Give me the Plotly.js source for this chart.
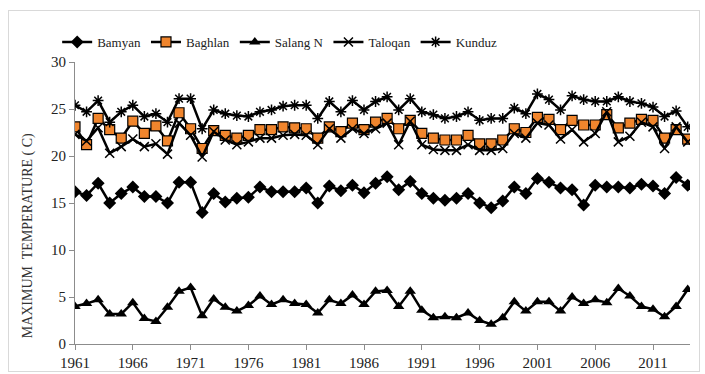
<!DOCTYPE html>
<html>
<head>
<meta charset="utf-8">
<script src="https://cdn.plot.ly/plotly-3.0.1.min.js"></script>
<style>
  html, body { margin: 0; padding: 0; background: #fff; }
  #frame { position: absolute; left: 8px; top: 10px; width: 692px; height: 362px; border: 1px solid #d9d9d9; box-sizing: border-box; }
  #chart { position: absolute; left: 0; top: 0; width: 705px; height: 374px; }
</style>
</head>
<body>
<div id="frame"></div>
<div id="chart"></div>
<script>
const years = [];
for (let y = 1961; y <= 2014; y++) years.push(y);

const bamyan = [16.2,15.8,17.1,15.0,16.0,16.7,15.7,15.7,15.0,17.2,
                17.2,14.0,16.0,15.1,15.5,15.6,16.7,16.2,16.2,16.2,
                16.6,15.0,16.8,16.3,16.9,16.1,17.1,17.8,16.4,17.3,
                16.0,15.5,15.3,15.5,16.0,15.0,14.5,15.2,16.7,16.0,
                17.6,17.2,16.6,16.4,14.8,16.9,16.7,16.7,16.6,17.0,
                16.8,16.0,17.7,16.9];
const baghlan = [23.1,21.2,24.0,22.8,21.9,23.7,22.4,23.2,21.6,24.6,
                 22.9,20.8,22.7,22.2,21.9,22.2,22.8,22.8,23.1,23.0,
                 22.9,21.9,23.1,22.6,23.5,22.8,23.6,24.0,22.9,23.8,
                 22.4,21.9,21.7,21.7,22.2,21.3,21.3,21.7,22.9,22.5,
                 24.1,23.9,22.8,23.8,23.3,23.3,24.4,23.0,23.5,23.9,
                 23.8,21.9,22.8,21.8];
const salangN = [4.0,4.3,4.7,3.2,3.2,4.4,2.7,2.4,3.9,5.6,
                 6.0,3.0,4.8,3.9,3.5,4.1,5.1,4.2,4.7,4.3,
                 4.2,3.3,4.7,4.3,5.2,4.2,5.6,5.7,4.0,5.6,
                 3.6,2.8,2.9,2.8,3.3,2.5,2.1,2.8,4.5,3.5,
                 4.5,4.5,3.5,5.0,4.3,4.7,4.4,5.9,5.1,4.0,
                 3.7,2.9,4.0,5.8];
const taloqan = [22.3,21.6,23.0,20.3,21.0,21.8,21.0,21.3,20.2,23.5,
                 22.2,19.9,22.6,21.7,21.2,21.5,21.9,21.9,22.2,22.3,
                 22.2,21.2,22.9,21.9,22.9,22.4,22.9,23.5,21.2,23.7,
                 21.2,20.7,20.6,20.6,21.2,20.6,20.6,20.8,22.4,21.9,
                 23.5,23.3,21.8,22.8,21.5,22.4,24.7,21.5,22.1,23.6,
                 23.1,20.8,23.1,21.5];
const kunduz = [25.4,24.7,25.9,23.6,24.7,25.4,24.2,24.5,23.6,26.1,
                26.1,22.9,24.9,24.5,24.3,24.2,24.7,24.9,25.3,25.4,
                25.4,24.0,25.8,24.7,25.9,24.9,25.8,26.3,24.9,26.1,
                24.7,24.4,24.0,24.2,24.7,23.8,24.0,24.0,25.1,24.5,
                26.6,26.0,24.9,26.4,26.0,25.8,25.8,26.3,25.8,25.6,
                25.2,24.2,24.8,23.1];
const seriesNames = ["Bamyan", "Baghlan", "Salang N", "Taloqan", "Kunduz"];
const tickYears = [1961, 1966, 1971, 1976, 1981, 1986, 1991, 1996, 2001, 2006, 2011];
const yTicks = [0, 5, 10, 15, 20, 25, 30];
const yTitle = "MAXIMUM  TEMPERATURE ( C)";

const lineStyle = {color: "#000000", width: 2.5};
const traces = [
  {x: years, y: bamyan, name: seriesNames[0], mode: "lines+markers", line: lineStyle,
   marker: {symbol: "diamond", size: 10, color: "#000000"}},
  {x: years, y: baghlan, name: seriesNames[1], mode: "lines+markers", line: lineStyle,
   marker: {symbol: "square", size: 10, color: "#F0852D", line: {color: "#000000", width: 1.2}}},
  {x: years, y: salangN, name: seriesNames[2], mode: "lines+markers", line: lineStyle,
   marker: {symbol: "triangle-up", size: 10, color: "#000000"}},
  {x: years, y: taloqan, name: seriesNames[3], mode: "lines+markers", line: lineStyle,
   marker: {symbol: "x-thin-open", size: 9, color: "#000000", line: {color: "#000000", width: 1.5}}},
  {x: years, y: kunduz, name: seriesNames[4], mode: "lines+markers", line: lineStyle,
   marker: {symbol: "asterisk-open", size: 9, color: "#000000", line: {color: "#000000", width: 1.5}}}
];

const fam = "Liberation Serif";
const layout = {
  width: 705, height: 374,
  margin: {l: 75, r: 15, t: 62, b: 30},
  paper_bgcolor: "rgba(0,0,0,0)", plot_bgcolor: "rgba(0,0,0,0)",
  font: {family: fam, size: 15, color: "#222222"},
  showlegend: true,
  legend: {orientation: "h", x: -0.029, xanchor: "left", y: 1.071, yanchor: "middle",
           font: {family: fam, size: 13, color: "#222222"}, bgcolor: "rgba(0,0,0,0)"},
  xaxis: {range: [1961, 2014.2], tickmode: "array", tickvals: tickYears, ticktext: tickYears.map(String),
          showgrid: false, zeroline: false, showline: true, linecolor: "#8c8c8c", linewidth: 1,
          ticks: "outside", ticklen: 5, tickcolor: "#8c8c8c", tickfont: {family: fam, size: 15, color: "#222222"}},
  yaxis: {range: [0, 30], tickmode: "array", tickvals: yTicks, showgrid: false, zeroline: false,
          showline: true, linecolor: "#8c8c8c", linewidth: 1, ticks: "outside", ticklen: 5, tickcolor: "#8c8c8c",
          tickfont: {family: fam, size: 15, color: "#222222"}},
  annotations: [{text: yTitle, textangle: -90, xref: "paper", yref: "paper", x: -0.075, y: 0.385,
                 xanchor: "center", yanchor: "middle", showarrow: false,
                 font: {family: fam, size: 14, color: "#333333"}}]
};

Plotly.newPlot("chart", traces, layout, {displayModeBar: false, staticPlot: true});
</script>
</body>
</html>
